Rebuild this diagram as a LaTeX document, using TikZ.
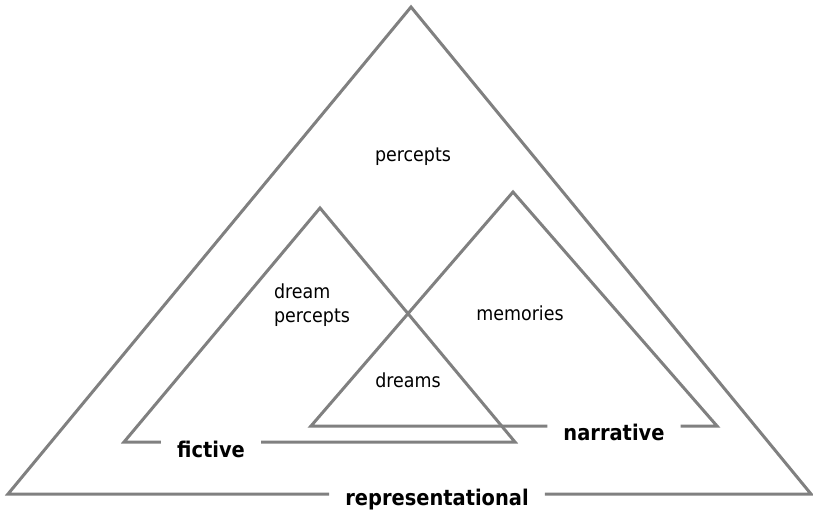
\documentclass[tikz,border=0pt]{standalone}
\usepackage{fontspec}
\setmainfont{DejaVu Sans Condensed}
\begin{document}
\begin{tikzpicture}[x=1pt,y=-1pt,
		side/.style={draw=gray, line width=3pt, line join=miter},
		region/.style={font=\fontsize{19.4}{24}\selectfont, align=left, inner sep=0pt},
		kind/.style={font=\bfseries\fontsize{21.6}{24}\selectfont, inner xsep=16pt, inner ysep=0pt}]
		\useasboundingbox (0,0) rectangle (813,513);

		% Corners of the three triangles
		\coordinate (repTop) at (411,7);
		\coordinate (repLeft) at (8,494);
		\coordinate (repRight) at (811,494);
		\coordinate (ficTop) at (320,208);
		\coordinate (ficLeft) at (124,442);
		\coordinate (ficRight) at (515,442);
		\coordinate (narTop) at (513,192);
		\coordinate (narLeft) at (311,426);
		\coordinate (narRight) at (717,426);

		% Kinds (on the base lines)
		\node[kind] (representational) at (437,500) {representational};
		\node[kind] (fictive) at (211,449) {fictive};
		\node[kind] (narrative) at (614,432) {narrative};

		% Triangles
		\draw[side] (representational.west |- repLeft) -- (repLeft) -- (repTop) -- (repRight) -- (representational.east |- repRight);
		\draw[side] (fictive.west |- ficLeft) -- (ficLeft) -- (ficTop) -- (ficRight) -- (fictive.east |- ficRight);
		\draw[side] (narrative.west |- narLeft) -- (narLeft) -- (narTop) -- (narRight) -- (narrative.east |- narRight);

		% Regions
		\node[region] (percepts) at (413,157) {percepts};
		\node[region] (dreamPercepts) at (312,305) {dream\\percepts};
		\node[region] (memories) at (520,313) {memories};
		\node[region] (dreams) at (408,380) {dreams};
	\end{tikzpicture}
\end{document}
